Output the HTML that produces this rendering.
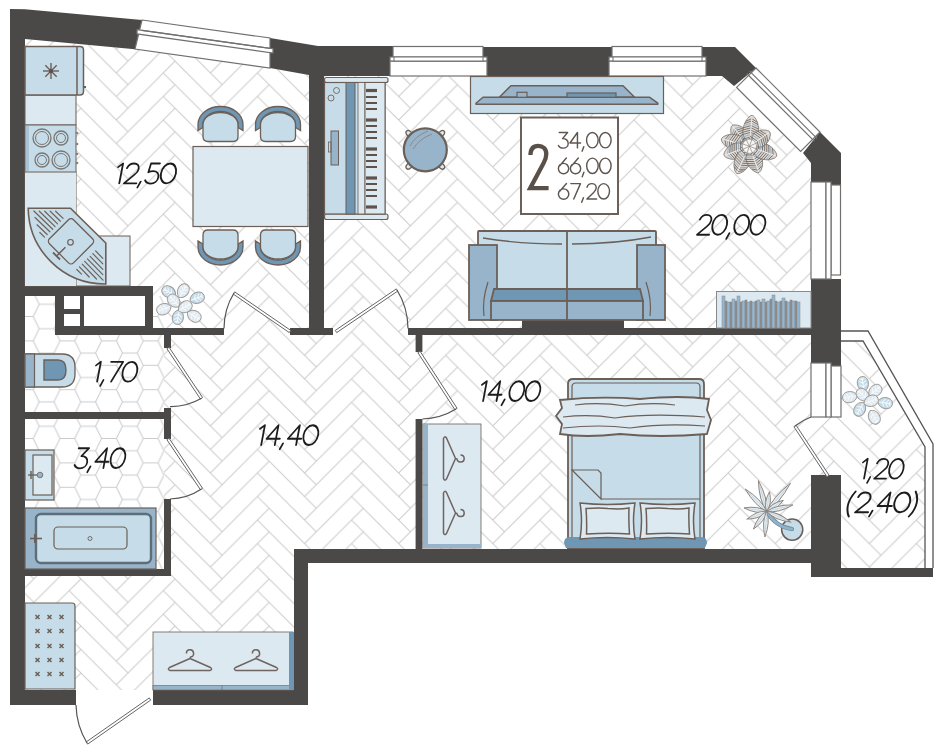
<!DOCTYPE html>
<html><head><meta charset="utf-8"><style>
html,body{margin:0;padding:0;background:#fff;width:951px;height:752px;overflow:hidden}
svg{display:block}
text{font-family:"Liberation Sans",sans-serif}
</style></head><body>
<svg width="951" height="752" viewBox="0 0 951 752">
<defs><pattern id="hb" patternUnits="userSpaceOnUse" x="-13.18" y="-9.45" width="94.130" height="23.533"><path d="M-11.77,-58.83 L0.00,-47.07 L-47.07,0.00 L-58.83,-11.77Z M82.36,-58.83 L94.13,-47.07 L47.07,0.00 L35.30,-11.77Z M-11.77,-35.30 L0.00,-23.53 L-47.07,23.53 L-58.83,11.77Z M0.00,-47.07 L47.07,0.00 L35.30,11.77 L-11.77,-35.30Z M82.36,-35.30 L94.13,-23.53 L47.07,23.53 L35.30,11.77Z M94.13,-47.07 L141.20,0.00 L129.43,11.77 L82.36,-35.30Z M-11.77,-11.77 L0.00,0.00 L-47.07,47.07 L-58.83,35.30Z M0.00,-23.53 L47.07,23.53 L35.30,35.30 L-11.77,-11.77Z M82.36,-11.77 L94.13,0.00 L47.07,47.07 L35.30,35.30Z M94.13,-23.53 L141.20,23.53 L129.43,35.30 L82.36,-11.77Z M-11.77,11.77 L0.00,23.53 L-47.07,70.60 L-58.83,58.83Z M0.00,0.00 L47.07,47.07 L35.30,58.83 L-11.77,11.77Z M82.36,11.77 L94.13,23.53 L47.07,70.60 L35.30,58.83Z M94.13,0.00 L141.20,47.07 L129.43,58.83 L82.36,11.77Z M0.00,23.53 L47.07,70.60 L35.30,82.36 L-11.77,35.30Z M94.13,23.53 L141.20,70.60 L129.43,82.36 L82.36,35.30Z" fill="none" stroke="#cbcbcb" stroke-width="1"/></pattern><pattern id="hx" patternUnits="userSpaceOnUse" x="25.80" y="11.50" width="41.600" height="24.400"><path d="M-55.00,-24.40 L-49.00,-36.60 L-34.20,-36.60 L-28.20,-24.40 L-34.20,-12.20 L-49.00,-12.20Z M-34.20,-12.20 L-28.20,-24.40 L-13.40,-24.40 L-7.40,-12.20 L-13.40,0.00 L-28.20,0.00Z M-55.00,0.00 L-49.00,-12.20 L-34.20,-12.20 L-28.20,0.00 L-34.20,12.20 L-49.00,12.20Z M-34.20,12.20 L-28.20,0.00 L-13.40,0.00 L-7.40,12.20 L-13.40,24.40 L-28.20,24.40Z M-55.00,24.40 L-49.00,12.20 L-34.20,12.20 L-28.20,24.40 L-34.20,36.60 L-49.00,36.60Z M-34.20,36.60 L-28.20,24.40 L-13.40,24.40 L-7.40,36.60 L-13.40,48.80 L-28.20,48.80Z M-55.00,48.80 L-49.00,36.60 L-34.20,36.60 L-28.20,48.80 L-34.20,61.00 L-49.00,61.00Z M-34.20,61.00 L-28.20,48.80 L-13.40,48.80 L-7.40,61.00 L-13.40,73.20 L-28.20,73.20Z M-13.40,-24.40 L-7.40,-36.60 L7.40,-36.60 L13.40,-24.40 L7.40,-12.20 L-7.40,-12.20Z M7.40,-12.20 L13.40,-24.40 L28.20,-24.40 L34.20,-12.20 L28.20,0.00 L13.40,0.00Z M-13.40,0.00 L-7.40,-12.20 L7.40,-12.20 L13.40,0.00 L7.40,12.20 L-7.40,12.20Z M7.40,12.20 L13.40,0.00 L28.20,0.00 L34.20,12.20 L28.20,24.40 L13.40,24.40Z M-13.40,24.40 L-7.40,12.20 L7.40,12.20 L13.40,24.40 L7.40,36.60 L-7.40,36.60Z M7.40,36.60 L13.40,24.40 L28.20,24.40 L34.20,36.60 L28.20,48.80 L13.40,48.80Z M-13.40,48.80 L-7.40,36.60 L7.40,36.60 L13.40,48.80 L7.40,61.00 L-7.40,61.00Z M7.40,61.00 L13.40,48.80 L28.20,48.80 L34.20,61.00 L28.20,73.20 L13.40,73.20Z M28.20,-24.40 L34.20,-36.60 L49.00,-36.60 L55.00,-24.40 L49.00,-12.20 L34.20,-12.20Z M49.00,-12.20 L55.00,-24.40 L69.80,-24.40 L75.80,-12.20 L69.80,0.00 L55.00,0.00Z M28.20,0.00 L34.20,-12.20 L49.00,-12.20 L55.00,0.00 L49.00,12.20 L34.20,12.20Z M49.00,12.20 L55.00,0.00 L69.80,0.00 L75.80,12.20 L69.80,24.40 L55.00,24.40Z M28.20,24.40 L34.20,12.20 L49.00,12.20 L55.00,24.40 L49.00,36.60 L34.20,36.60Z M49.00,36.60 L55.00,24.40 L69.80,24.40 L75.80,36.60 L69.80,48.80 L55.00,48.80Z M28.20,48.80 L34.20,36.60 L49.00,36.60 L55.00,48.80 L49.00,61.00 L34.20,61.00Z M49.00,61.00 L55.00,48.80 L69.80,48.80 L75.80,61.00 L69.80,73.20 L55.00,73.20Z M69.80,-24.40 L75.80,-36.60 L90.60,-36.60 L96.60,-24.40 L90.60,-12.20 L75.80,-12.20Z M90.60,-12.20 L96.60,-24.40 L111.40,-24.40 L117.40,-12.20 L111.40,0.00 L96.60,0.00Z M69.80,0.00 L75.80,-12.20 L90.60,-12.20 L96.60,0.00 L90.60,12.20 L75.80,12.20Z M90.60,12.20 L96.60,0.00 L111.40,0.00 L117.40,12.20 L111.40,24.40 L96.60,24.40Z M69.80,24.40 L75.80,12.20 L90.60,12.20 L96.60,24.40 L90.60,36.60 L75.80,36.60Z M90.60,36.60 L96.60,24.40 L111.40,24.40 L117.40,36.60 L111.40,48.80 L96.60,48.80Z M69.80,48.80 L75.80,36.60 L90.60,36.60 L96.60,48.80 L90.60,61.00 L75.80,61.00Z M90.60,61.00 L96.60,48.80 L111.40,48.80 L117.40,61.00 L111.40,73.20 L96.60,73.20Z" fill="none" stroke="#cbcbcb" stroke-width="1"/></pattern></defs>
<rect width="951" height="752" fill="#fff"/>
<polygon points="25.0,39.0 135.0,48.0 270.0,67.0 309.0,75.0 324.0,76.0 722.0,76.0 803.0,153.0 811.0,163.0 811.0,549.0 308.0,563.0 308.0,690.0 25.0,690.0" fill="url(#hb)" stroke="none" stroke-width="0" />
<polygon points="841.0,341.0 863.0,341.0 925.0,446.0 925.0,568.0 841.0,568.0" fill="url(#hb)" stroke="none" stroke-width="0" />
<rect x="811" y="417" width="30" height="58" rx="0" fill="url(#hb)" stroke="none" stroke-width="0" />
<rect x="25" y="296" width="139" height="116" rx="0" fill="#fff" stroke="none" stroke-width="0" />
<rect x="25" y="296" width="139" height="116" rx="0" fill="url(#hx)" stroke="none" stroke-width="0" />
<rect x="25" y="419" width="139" height="150" rx="0" fill="#fff" stroke="none" stroke-width="0" />
<rect x="25" y="419" width="139" height="150" rx="0" fill="url(#hx)" stroke="none" stroke-width="0" />
<polygon points="10.0,9.0 25.0,9.3 142.0,20.0 135.0,49.2 25.0,39.0 25.0,690.0 76.0,690.0 76.0,705.0 10.0,705.0" fill="#4b4947" stroke="none" stroke-width="0" />
<polygon points="270.0,38.0 318.0,46.0 393.0,46.0 393.0,57.0 390.0,57.0 390.0,76.0 324.0,76.0 324.0,335.0 309.0,335.0 309.0,75.0 270.0,68.0" fill="#4b4947" stroke="none" stroke-width="0" />
<polygon points="290.0,328.0 333.0,328.0 333.0,335.0 290.0,335.0" fill="#4b4947" stroke="none" stroke-width="0" />
<polygon points="483.0,47.0 613.0,47.0 613.0,57.0 609.0,57.0 609.0,76.0 487.0,76.0 487.0,57.0 483.0,57.0" fill="#4b4947" stroke="none" stroke-width="0" />
<polygon points="702.0,47.0 735.0,47.0 756.0,68.0 734.0,86.0 722.0,76.0 706.0,76.0 706.0,57.0 702.0,57.0" fill="#4b4947" stroke="none" stroke-width="0" />
<polygon points="820.0,132.0 841.0,153.0 841.0,185.0 811.0,185.0 811.0,163.0 803.0,153.0" fill="#4b4947" stroke="none" stroke-width="0" />
<polygon points="811.0,279.0 841.0,279.0 841.0,366.0 826.0,366.0 826.0,363.0 811.0,363.0" fill="#4b4947" stroke="none" stroke-width="0" />
<polygon points="408.0,328.0 811.0,328.0 811.0,335.0 408.0,335.0" fill="#4b4947" stroke="none" stroke-width="0" />
<polygon points="522.0,320.0 624.0,320.0 624.0,334.0 522.0,334.0" fill="#4b4947" stroke="none" stroke-width="0" />
<polygon points="811.0,475.0 841.0,475.0 841.0,568.0 933.0,568.0 933.0,577.0 811.0,577.0 811.0,563.0 308.0,563.0 308.0,705.0 153.0,705.0 153.0,690.0 294.0,690.0 294.0,549.0 811.0,549.0" fill="#4b4947" stroke="none" stroke-width="0" />
<polygon points="25.0,286.0 153.0,286.0 153.0,328.0 224.0,328.0 224.0,335.0 55.0,335.0 55.0,296.0 25.0,296.0" fill="#4b4947" stroke="none" stroke-width="0" />
<polygon points="164.0,335.0 171.0,335.0 171.0,348.0 164.0,348.0" fill="#4b4947" stroke="none" stroke-width="0" />
<polygon points="25.0,412.0 164.0,412.0 164.0,408.0 171.0,408.0 171.0,439.0 164.0,439.0 164.0,419.0 25.0,419.0" fill="#4b4947" stroke="none" stroke-width="0" />
<polygon points="164.0,499.0 171.0,499.0 171.0,576.0 25.0,576.0 25.0,569.0 164.0,569.0" fill="#4b4947" stroke="none" stroke-width="0" />
<polygon points="415.6,334.0 422.4,334.0 422.4,352.0 415.6,352.0" fill="#4b4947" stroke="none" stroke-width="0" />
<polygon points="415.6,419.0 422.4,419.0 422.4,549.0 415.6,549.0" fill="#4b4947" stroke="none" stroke-width="0" />
<rect x="64" y="296" width="16" height="13" rx="0" fill="#fff" stroke="none" stroke-width="0" />
<rect x="64" y="314" width="16" height="12" rx="0" fill="#fff" stroke="none" stroke-width="0" />
<rect x="84" y="296" width="61" height="30" rx="0" fill="#fff" stroke="none" stroke-width="0" />
<polygon points="142.0,20.0 270.0,38.0 270.0,68.1 135.0,49.1" fill="#fff" stroke="#707070" stroke-width="1.2" />
<polygon points="137.0,29.6 273.0,48.7 273.0,53.0 137.0,33.9" fill="#fff" stroke="#707070" stroke-width="1.2" />
<line x1="142" y1="30.3" x2="270" y2="48.296800000000005" stroke="#707070" stroke-width="1.2" />
<rect x="393" y="46.5" width="90" height="11" rx="0" fill="#fff" stroke="#707070" stroke-width="1.2" />
<rect x="390" y="61" width="97" height="15" rx="0" fill="#fff" stroke="#707070" stroke-width="1.2" />
<rect x="390" y="57" width="97" height="4" rx="0" fill="#fff" stroke="#707070" stroke-width="1.2" />
<rect x="394" y="57" width="89" height="4" rx="0" fill="#fff" stroke="#707070" stroke-width="1.0" />
<rect x="612" y="46.5" width="90" height="11" rx="0" fill="#fff" stroke="#707070" stroke-width="1.2" />
<rect x="609" y="61" width="97" height="15" rx="0" fill="#fff" stroke="#707070" stroke-width="1.2" />
<rect x="609" y="57" width="97" height="4" rx="0" fill="#fff" stroke="#707070" stroke-width="1.2" />
<rect x="613" y="57" width="89" height="4" rx="0" fill="#fff" stroke="#707070" stroke-width="1.0" />
<polygon points="756.0,68.0 820.0,132.0 800.6,151.4 736.6,87.4" fill="#fff" stroke="#707070" stroke-width="1.2" />
<polygon points="755.5,68.5" fill="#fff" stroke="none" stroke-width="0" />
<line x1="746.6553787975413" y1="73.50462120245875" x2="814.4953787975412" y2="141.34462120245877" stroke="#707070" stroke-width="1.2" />
<line x1="749.3423845660502" y1="70.81761543394987" x2="817.1823845660501" y2="138.65761543394987" stroke="#707070" stroke-width="1.2" />
<rect x="811" y="182" width="15" height="97" rx="0" fill="#fff" stroke="#707070" stroke-width="1.2" />
<rect x="831" y="185" width="9.5" height="90" rx="0" fill="#fff" stroke="#707070" stroke-width="1.2" />
<rect x="826" y="182" width="5" height="97" rx="0" fill="#fff" stroke="#707070" stroke-width="1.2" />
<rect x="811" y="363" width="15" height="54" rx="0" fill="#fff" stroke="#707070" stroke-width="1.2" />
<rect x="831" y="366" width="10" height="51" rx="0" fill="#fff" stroke="#707070" stroke-width="1.2" />
<rect x="826" y="363" width="5" height="54" rx="0" fill="#fff" stroke="#707070" stroke-width="1.2" />
<path d="M841,331 L868,331 L933,444 L933,568" fill="none" stroke="#555" stroke-width="1.3" />
<path d="M841,341 L863,341 L925,447 L925,568" fill="none" stroke="#555" stroke-width="1.3" />
<polygon points="166.9,348.7 200.4,399.0 202.6,397.6 169.1,347.3" fill="#fff" stroke="#666" stroke-width="1" />
<path d="M201.5,398.3 A60.4,60.4 0 0,1 170,406.6" fill="none" stroke="#555" stroke-width="1.2" />
<polygon points="166.9,439.7 200.4,489.7 202.6,488.3 169.1,438.3" fill="#fff" stroke="#666" stroke-width="1" />
<path d="M201.5,489 A60.2,60.2 0 0,1 170,499" fill="none" stroke="#555" stroke-width="1.2" />
<polygon points="290.7,330.4 234.7,291.9 233.3,294.1 289.3,332.6" fill="#fff" stroke="#666" stroke-width="1" />
<path d="M234,293 A68.0,68.0 0 0,0 224,328.5" fill="none" stroke="#555" stroke-width="1.2" />
<polygon points="336.7,332.6 397.7,291.1 396.3,288.9 335.3,330.4" fill="#fff" stroke="#666" stroke-width="1" />
<path d="M397,290 A73.8,73.8 0 0,1 408,328.5" fill="none" stroke="#555" stroke-width="1.2" />
<polygon points="417.9,352.7 454.9,409.7 457.1,408.3 420.1,351.3" fill="#fff" stroke="#666" stroke-width="1" />
<path d="M456,409 A68.0,68.0 0 0,1 422.4,419" fill="none" stroke="#555" stroke-width="1.2" />
<polygon points="829.1,475.3 796.1,425.3 793.9,426.7 826.9,476.7" fill="#fff" stroke="#666" stroke-width="1" />
<path d="M795,426 A59.9,59.9 0 0,1 811,417" fill="none" stroke="#555" stroke-width="1.2" />
<polygon points="149.3,697.9 86.3,741.9 87.7,744.1 150.7,700.1" fill="#fff" stroke="#666" stroke-width="1" />
<path d="M87,743 A76.8,76.8 0 0,1 76,705" fill="none" stroke="#555" stroke-width="1.2" />
<rect x="25" y="95" width="51" height="30" rx="0" fill="#dce9f1" stroke="#6b5f58" stroke-width="1" />
<rect x="25" y="172" width="51" height="114" rx="0" fill="#dce9f1" stroke="#6b5f58" stroke-width="1" />
<rect x="76" y="236" width="54" height="50" rx="0" fill="#dce9f1" stroke="#6b5f58" stroke-width="1" />
<rect x="25" y="172" width="51" height="114" rx="0" fill="#dce9f1" stroke="none" stroke-width="0" />
<path d="M25,46.5 L80,46.5 Q83.5,46.5 83.5,50 L83.5,91.5 Q83.5,95 80,95 L25,95 Z" fill="#c6dde9" stroke="#6b5f58" stroke-width="1.5" />
<line x1="77" y1="46.5" x2="77" y2="95" stroke="#6b5f58" stroke-width="1.5" />
<rect x="83.5" y="86" width="2.5" height="2" rx="0" fill="#6b5f58" stroke="none" stroke-width="0" />
<line x1="43.0" y1="71.0" x2="59.0" y2="71.0" stroke="#6b5f58" stroke-width="1.4" />
<line x1="45.3" y1="65.3" x2="56.7" y2="76.7" stroke="#6b5f58" stroke-width="1.4" />
<line x1="51.0" y1="63.0" x2="51.0" y2="79.0" stroke="#6b5f58" stroke-width="1.4" />
<line x1="56.7" y1="65.3" x2="45.3" y2="76.7" stroke="#6b5f58" stroke-width="1.4" />
<circle cx="51" cy="71" r="2" fill="#5a4f49"/>
<rect x="25" y="125" width="51" height="47" rx="0" fill="#c6dde9" stroke="#6b5f58" stroke-width="1" />
<rect x="26" y="126" width="3" height="45" rx="0" fill="#a9c3d5" stroke="none" stroke-width="0" />
<circle cx="42" cy="138" r="9" fill="none" stroke="#7a7572" stroke-width="1.3"/>
<circle cx="42" cy="138" r="6.5" fill="none" stroke="#7a7572" stroke-width="1"/>
<circle cx="61" cy="138" r="7" fill="none" stroke="#7a7572" stroke-width="1.3"/>
<circle cx="61" cy="138" r="4.5" fill="none" stroke="#7a7572" stroke-width="1"/>
<circle cx="42" cy="160" r="7" fill="none" stroke="#7a7572" stroke-width="1.3"/>
<circle cx="42" cy="160" r="4.5" fill="none" stroke="#7a7572" stroke-width="1"/>
<circle cx="61" cy="160" r="9" fill="none" stroke="#7a7572" stroke-width="1.3"/>
<circle cx="61" cy="160" r="6.5" fill="none" stroke="#7a7572" stroke-width="1"/>
<circle cx="77" cy="133" r="1.3" fill="#8a7f78"/>
<circle cx="77" cy="144" r="1.3" fill="#8a7f78"/>
<circle cx="77" cy="154" r="1.3" fill="#8a7f78"/>
<circle cx="77" cy="163" r="1.3" fill="#8a7f78"/>
<path d="M28.2,208.2 L70.5,208.2 L105.8,243 L105.8,284 A77,77 0 0,1 28.2,208.2 Z" fill="#c6dde9" stroke="#6b5f58" stroke-width="1.6" />
<rect x="-17" y="-17" width="34" height="34" rx="3.5" transform="translate(71,241.3) rotate(45)" fill="#c6dde9" stroke="#6b5f58" stroke-width="1.3"/>
<circle cx="70.5" cy="242.3" r="2.8" fill="none" stroke="#6b5f58" stroke-width="1.2"/>
<line x1="65.4" y1="247.3" x2="56.6" y2="256" stroke="#6b5f58" stroke-width="1.5" />
<line x1="53" y1="252.5" x2="60" y2="259.5" stroke="#6b5f58" stroke-width="1.8" />
<line x1="33.9" y1="211.0" x2="52.7" y2="229.3" stroke="#6e625b" stroke-width="1.2" stroke-linecap="round"/>
<line x1="103.0" y1="280.1" x2="84.7" y2="261.3" stroke="#6e625b" stroke-width="1.2" stroke-linecap="round"/>
<line x1="39.3" y1="211.2" x2="55.1" y2="226.6" stroke="#6e625b" stroke-width="1.2" stroke-linecap="round"/>
<line x1="102.8" y1="274.7" x2="87.4" y2="258.9" stroke="#6e625b" stroke-width="1.2" stroke-linecap="round"/>
<line x1="44.7" y1="211.2" x2="57.6" y2="223.9" stroke="#6e625b" stroke-width="1.2" stroke-linecap="round"/>
<line x1="102.8" y1="269.3" x2="90.1" y2="256.4" stroke="#6e625b" stroke-width="1.2" stroke-linecap="round"/>
<line x1="50.2" y1="211.2" x2="60.4" y2="221.2" stroke="#6e625b" stroke-width="1.2" stroke-linecap="round"/>
<line x1="102.8" y1="263.8" x2="92.8" y2="253.6" stroke="#6e625b" stroke-width="1.2" stroke-linecap="round"/>
<line x1="55.6" y1="211.2" x2="63.1" y2="218.4" stroke="#6e625b" stroke-width="1.2" stroke-linecap="round"/>
<line x1="102.8" y1="258.4" x2="95.6" y2="250.9" stroke="#6e625b" stroke-width="1.2" stroke-linecap="round"/>
<line x1="35.0" y1="217.5" x2="49.9" y2="231.8" stroke="#6e625b" stroke-width="1.2" stroke-linecap="round"/>
<line x1="96.5" y1="279.0" x2="82.2" y2="264.1" stroke="#6e625b" stroke-width="1.2" stroke-linecap="round"/>
<line x1="37.0" y1="224.8" x2="47.2" y2="234.5" stroke="#6e625b" stroke-width="1.2" stroke-linecap="round"/>
<line x1="89.2" y1="277.0" x2="79.5" y2="266.8" stroke="#6e625b" stroke-width="1.2" stroke-linecap="round"/>
<line x1="39.8" y1="232.5" x2="44.5" y2="237.2" stroke="#6e625b" stroke-width="1.2" stroke-linecap="round"/>
<line x1="81.5" y1="274.2" x2="76.8" y2="269.5" stroke="#6e625b" stroke-width="1.2" stroke-linecap="round"/>
<rect x="193" y="146.5" width="115" height="80" rx="0" fill="#dce9f1" stroke="#6b5f58" stroke-width="1.2" />
<path d="M198,130.5 L198,124.5 A22.5,18 0 0,1 243,124.5 L243,130.5 L238,127.5 L238,124.5 A17.5,13 0 0,0 203,124.5 L203,127.5 Z" fill="#6f96b2" stroke="#6b5f58" stroke-width="1.3" />
<path d="M203,124.5 A17.5,12 0 0,1 238,124.5 L238,136.5 Q238,141.5 233,141.5 L208,141.5 Q203,141.5 203,136.5 Z" fill="#c6dde9" stroke="#6b5f58" stroke-width="1.3" />
<path d="M255.5,130.5 L255.5,124.5 A22.5,18 0 0,1 300.5,124.5 L300.5,130.5 L295.5,127.5 L295.5,124.5 A17.5,13 0 0,0 260.5,124.5 L260.5,127.5 Z" fill="#6f96b2" stroke="#6b5f58" stroke-width="1.3" />
<path d="M260.5,124.5 A17.5,12 0 0,1 295.5,124.5 L295.5,136.5 Q295.5,141.5 290.5,141.5 L265.5,141.5 Q260.5,141.5 260.5,136.5 Z" fill="#c6dde9" stroke="#6b5f58" stroke-width="1.3" />
<path d="M198,241 L198,247 A22.5,18 0 0,0 243,247 L243,241 L238,244 L238,247 A17.5,13 0 0,1 203,247 L203,244 Z" fill="#6f96b2" stroke="#6b5f58" stroke-width="1.3" />
<path d="M203,247 A17.5,12 0 0,0 238,247 L238,235 Q238,230 233,230 L208,230 Q203,230 203,235 Z" fill="#c6dde9" stroke="#6b5f58" stroke-width="1.3" />
<path d="M255.5,241 L255.5,247 A22.5,18 0 0,0 300.5,247 L300.5,241 L295.5,244 L295.5,247 A17.5,13 0 0,1 260.5,247 L260.5,244 Z" fill="#6f96b2" stroke="#6b5f58" stroke-width="1.3" />
<path d="M260.5,247 A17.5,12 0 0,0 295.5,247 L295.5,235 Q295.5,230 290.5,230 L265.5,230 Q260.5,230 260.5,235 Z" fill="#c6dde9" stroke="#6b5f58" stroke-width="1.3" />
<rect x="324.5" y="77.5" width="63.5" height="5" rx="2" fill="#dce9f1" stroke="#6b5f58" stroke-width="1.2" />
<rect x="324.5" y="214" width="63.5" height="5.5" rx="2" fill="#dce9f1" stroke="#6b5f58" stroke-width="1.2" />
<rect x="324.5" y="82.5" width="60.5" height="131.5" rx="0" fill="#c6dde9" stroke="#6b5f58" stroke-width="1.2" />
<rect x="346" y="82.5" width="9" height="131.5" rx="0" fill="#6f96b2" stroke="#6b5f58" stroke-width="1" />
<rect x="358" y="82.5" width="7" height="131.5" rx="0" fill="#dce9f1" stroke="#6b5f58" stroke-width="0.8" />
<rect x="365" y="82.5" width="20" height="131.5" rx="0" fill="#dce9f1" stroke="#6b5f58" stroke-width="1" />
<circle cx="336.5" cy="90.5" r="3" fill="none" stroke="#7a6f68" stroke-width="1"/>
<circle cx="331" cy="98" r="3" fill="none" stroke="#7a6f68" stroke-width="1"/>
<rect x="331" y="131" width="7.5" height="34" rx="0" fill="#97b4ca" stroke="#6b5f58" stroke-width="1" />
<rect x="328.5" y="142" width="2.5" height="10" rx="0" fill="none" stroke="#6b5f58" stroke-width="0.8" />
<rect x="366" y="88.9" width="11" height="3.2" rx="0" fill="#5e524b" stroke="none" stroke-width="0" />
<rect x="366" y="96" width="11" height="2" rx="0" fill="#5e524b" stroke="none" stroke-width="0" />
<rect x="366" y="102" width="11" height="2" rx="0" fill="#5e524b" stroke="none" stroke-width="0" />
<rect x="366" y="108" width="11" height="2" rx="0" fill="#5e524b" stroke="none" stroke-width="0" />
<rect x="366" y="118.4" width="11" height="3.2" rx="0" fill="#5e524b" stroke="none" stroke-width="0" />
<rect x="366" y="125" width="11" height="2" rx="0" fill="#5e524b" stroke="none" stroke-width="0" />
<rect x="366" y="131" width="11" height="2" rx="0" fill="#5e524b" stroke="none" stroke-width="0" />
<rect x="366" y="137" width="11" height="2" rx="0" fill="#5e524b" stroke="none" stroke-width="0" />
<rect x="366" y="147.4" width="11" height="3.2" rx="0" fill="#5e524b" stroke="none" stroke-width="0" />
<rect x="366" y="154" width="11" height="2" rx="0" fill="#5e524b" stroke="none" stroke-width="0" />
<rect x="366" y="160" width="11" height="2" rx="0" fill="#5e524b" stroke="none" stroke-width="0" />
<rect x="366" y="166" width="11" height="2" rx="0" fill="#5e524b" stroke="none" stroke-width="0" />
<rect x="366" y="176.4" width="11" height="3.2" rx="0" fill="#5e524b" stroke="none" stroke-width="0" />
<rect x="366" y="183" width="11" height="2" rx="0" fill="#5e524b" stroke="none" stroke-width="0" />
<rect x="366" y="189" width="11" height="2" rx="0" fill="#5e524b" stroke="none" stroke-width="0" />
<rect x="366" y="195" width="11" height="2" rx="0" fill="#5e524b" stroke="none" stroke-width="0" />
<rect x="366" y="205.4" width="11" height="3.2" rx="0" fill="#5e524b" stroke="none" stroke-width="0" />
<ellipse cx="441.2" cy="165.7" rx="4" ry="2.5" transform="rotate(45 441.2 165.7)" fill="#dce9f1" stroke="#6b5f58" stroke-width="1.3"/>
<ellipse cx="409.4" cy="165.7" rx="4" ry="2.5" transform="rotate(135 409.4 165.7)" fill="#dce9f1" stroke="#6b5f58" stroke-width="1.3"/>
<ellipse cx="409.4" cy="133.9" rx="4" ry="2.5" transform="rotate(225 409.4 133.9)" fill="#dce9f1" stroke="#6b5f58" stroke-width="1.3"/>
<ellipse cx="441.2" cy="133.9" rx="4" ry="2.5" transform="rotate(315 441.2 133.9)" fill="#dce9f1" stroke="#6b5f58" stroke-width="1.3"/>
<circle cx="425.3" cy="149.8" r="21.5" fill="#97b4ca" stroke="#6b5f58" stroke-width="2.2"/>
<path d="M410,146 Q415,136 428,131" fill="none" stroke="#8a7f78" stroke-width="0.8" />
<path d="M413,149 Q419,139 432,134" fill="none" stroke="#8a7f78" stroke-width="0.8" />
<rect x="470.5" y="76.5" width="193" height="37" rx="0" fill="#c6dde9" stroke="#6b5f58" stroke-width="1.2" />
<polygon points="499.3,97.3 510.9,85.7 623.0,85.7 634.6,97.3" fill="#97b4ca" stroke="#6b5f58" stroke-width="1.5" stroke-linejoin="round"/>
<polygon points="476.0,103.2 483.0,97.3 649.7,97.3 657.8,103.2 657.8,104.2 476.0,104.2" fill="#97b4ca" stroke="#6b5f58" stroke-width="1.5" stroke-linejoin="round"/>
<rect x="517" y="92.3" width="10" height="5" rx="0" fill="#97b4ca" stroke="#6b5f58" stroke-width="1.2" />
<rect x="567" y="93" width="49" height="4.3" rx="0" fill="#6f96b2" stroke="#6b5f58" stroke-width="1.2" />
<rect x="521" y="117.5" width="97" height="96.5" rx="0" fill="#fff" stroke="#6b605a" stroke-width="2" />
<path d="M530.4,155 C530.6,148.6 533.8,145.8 538.2,145.8 C543,145.8 546.3,149 546.3,154 C546.3,157.5 545.3,160 543.5,163.2 L530.2,188.15 L548.6,188.15" fill="none" stroke="#5a504a" stroke-width="4.3" stroke-linejoin="miter"/>
<rect x="478" y="231" width="178" height="60" rx="1" fill="#c6dde9" stroke="#6b5f58" stroke-width="1.8" />
<line x1="567" y1="231" x2="567" y2="320" stroke="#6b5f58" stroke-width="1.8" />
<path d="M483,238 Q520,244 562,244" fill="none" stroke="#6b5f58" stroke-width="1.3" />
<path d="M572,244 Q615,244 651,237" fill="none" stroke="#6b5f58" stroke-width="1.3" />
<rect x="469" y="245" width="28" height="75" rx="0" fill="#97b4ca" stroke="#6b5f58" stroke-width="1.8" />
<rect x="637" y="245" width="28" height="75" rx="0" fill="#97b4ca" stroke="#6b5f58" stroke-width="1.8" />
<polygon points="494.0,289.0 640.0,289.0 643.0,301.0 491.0,301.0" fill="#6f96b2" stroke="#6b5f58" stroke-width="1.8" />
<rect x="491" y="301" width="152" height="19" rx="0" fill="#97b4ca" stroke="#6b5f58" stroke-width="1.8" />
<line x1="567" y1="289" x2="567" y2="320" stroke="#6b5f58" stroke-width="1.8" />
<path d="M488,282 Q482,300 484,316" fill="none" stroke="#6b5f58" stroke-width="1.2" />
<path d="M646,282 Q652,300 650,316" fill="none" stroke="#6b5f58" stroke-width="1.2" />
<rect x="716.5" y="291.5" width="94.5" height="36.5" rx="0" fill="#dce9f1" stroke="#8a8a8a" stroke-width="1" />
<rect x="722" y="296" width="3" height="32" fill="#93b7d2" stroke="#8a8a8a" stroke-width="0.5"/>
<rect x="725" y="301" width="2" height="27" fill="#8c8c8c" stroke="#8a8a8a" stroke-width="0.5"/>
<rect x="727" y="302" width="3" height="26" fill="#93b7d2" stroke="#8a8a8a" stroke-width="0.5"/>
<rect x="730" y="302" width="2" height="26" fill="#8c8c8c" stroke="#8a8a8a" stroke-width="0.5"/>
<rect x="732" y="299" width="3" height="29" fill="#93b7d2" stroke="#8a8a8a" stroke-width="0.5"/>
<rect x="735" y="301" width="2" height="27" fill="#8c8c8c" stroke="#8a8a8a" stroke-width="0.5"/>
<rect x="737" y="296" width="3" height="32" fill="#93b7d2" stroke="#8a8a8a" stroke-width="0.5"/>
<rect x="740" y="302" width="2" height="26" fill="#8c8c8c" stroke="#8a8a8a" stroke-width="0.5"/>
<rect x="742" y="301" width="3" height="27" fill="#93b7d2" stroke="#8a8a8a" stroke-width="0.5"/>
<rect x="745" y="300" width="2" height="28" fill="#8c8c8c" stroke="#8a8a8a" stroke-width="0.5"/>
<rect x="747" y="302" width="3" height="26" fill="#93b7d2" stroke="#8a8a8a" stroke-width="0.5"/>
<rect x="750" y="301" width="2" height="27" fill="#8c8c8c" stroke="#8a8a8a" stroke-width="0.5"/>
<rect x="752" y="302" width="3" height="26" fill="#93b7d2" stroke="#8a8a8a" stroke-width="0.5"/>
<rect x="755" y="301" width="2" height="27" fill="#8c8c8c" stroke="#8a8a8a" stroke-width="0.5"/>
<rect x="757" y="300" width="3" height="28" fill="#93b7d2" stroke="#8a8a8a" stroke-width="0.5"/>
<rect x="760" y="302" width="2" height="26" fill="#8c8c8c" stroke="#8a8a8a" stroke-width="0.5"/>
<rect x="762" y="299" width="3" height="29" fill="#93b7d2" stroke="#8a8a8a" stroke-width="0.5"/>
<rect x="765" y="302" width="2" height="26" fill="#8c8c8c" stroke="#8a8a8a" stroke-width="0.5"/>
<rect x="767" y="301" width="3" height="27" fill="#93b7d2" stroke="#8a8a8a" stroke-width="0.5"/>
<rect x="770" y="299" width="2" height="29" fill="#8c8c8c" stroke="#8a8a8a" stroke-width="0.5"/>
<rect x="772" y="295" width="3" height="33" fill="#93b7d2" stroke="#8a8a8a" stroke-width="0.5"/>
<rect x="775" y="301" width="2" height="27" fill="#8c8c8c" stroke="#8a8a8a" stroke-width="0.5"/>
<rect x="777" y="302" width="3" height="26" fill="#93b7d2" stroke="#8a8a8a" stroke-width="0.5"/>
<rect x="780" y="301" width="2" height="27" fill="#8c8c8c" stroke="#8a8a8a" stroke-width="0.5"/>
<rect x="782" y="298" width="3" height="30" fill="#93b7d2" stroke="#8a8a8a" stroke-width="0.5"/>
<rect x="785" y="301" width="2" height="27" fill="#8c8c8c" stroke="#8a8a8a" stroke-width="0.5"/>
<rect x="787" y="302" width="3" height="26" fill="#93b7d2" stroke="#8a8a8a" stroke-width="0.5"/>
<rect x="790" y="300" width="2" height="28" fill="#8c8c8c" stroke="#8a8a8a" stroke-width="0.5"/>
<rect x="792" y="301" width="3" height="27" fill="#93b7d2" stroke="#8a8a8a" stroke-width="0.5"/>
<rect x="795" y="301" width="2" height="27" fill="#8c8c8c" stroke="#8a8a8a" stroke-width="0.5"/>
<rect x="797" y="302" width="3" height="26" fill="#93b7d2" stroke="#8a8a8a" stroke-width="0.5"/>
<g transform="translate(169.0,292.0) rotate(-150) scale(1.0)"><path d="M-7.5,0 Q-5,-6 2,-5.5 Q7.5,-4.5 7.5,0 Q7.5,4.5 2,5.5 Q-5,6 -7.5,0 Z" fill="#c3dbe9" stroke="#9d9893" stroke-width="0.9"/><path d="M-6,0 L6,0 M-3,0 L-0.5,-3.5 M0.5,0 L3,-3.2 M-3,0 L-0.5,3.5 M0.5,0 L3,3.2 M4,0 L5.5,-2 M4,0 L5.5,2" stroke="#f5f9fc" stroke-width="1" fill="none" stroke-linecap="round"/></g>
<g transform="translate(183.0,291.0) rotate(-60) scale(1.0)"><path d="M-7.5,0 Q-5,-6 2,-5.5 Q7.5,-4.5 7.5,0 Q7.5,4.5 2,5.5 Q-5,6 -7.5,0 Z" fill="#dfe9f0" stroke="#9d9893" stroke-width="0.9"/><path d="M-6,0 L6,0 M-3,0 L-0.5,-3.5 M0.5,0 L3,-3.2 M-3,0 L-0.5,3.5 M0.5,0 L3,3.2 M4,0 L5.5,-2 M4,0 L5.5,2" stroke="#f5f9fc" stroke-width="1" fill="none" stroke-linecap="round"/></g>
<g transform="translate(197.0,298.0) rotate(-20) scale(1.0)"><path d="M-7.5,0 Q-5,-6 2,-5.5 Q7.5,-4.5 7.5,0 Q7.5,4.5 2,5.5 Q-5,6 -7.5,0 Z" fill="#c3dbe9" stroke="#9d9893" stroke-width="0.9"/><path d="M-6,0 L6,0 M-3,0 L-0.5,-3.5 M0.5,0 L3,-3.2 M-3,0 L-0.5,3.5 M0.5,0 L3,3.2 M4,0 L5.5,-2 M4,0 L5.5,2" stroke="#f5f9fc" stroke-width="1" fill="none" stroke-linecap="round"/></g>
<g transform="translate(164.0,309.0) rotate(160) scale(1.0)"><path d="M-7.5,0 Q-5,-6 2,-5.5 Q7.5,-4.5 7.5,0 Q7.5,4.5 2,5.5 Q-5,6 -7.5,0 Z" fill="#dfe9f0" stroke="#9d9893" stroke-width="0.9"/><path d="M-6,0 L6,0 M-3,0 L-0.5,-3.5 M0.5,0 L3,-3.2 M-3,0 L-0.5,3.5 M0.5,0 L3,3.2 M4,0 L5.5,-2 M4,0 L5.5,2" stroke="#f5f9fc" stroke-width="1" fill="none" stroke-linecap="round"/></g>
<g transform="translate(178.0,317.0) rotate(100) scale(1.0)"><path d="M-7.5,0 Q-5,-6 2,-5.5 Q7.5,-4.5 7.5,0 Q7.5,4.5 2,5.5 Q-5,6 -7.5,0 Z" fill="#c3dbe9" stroke="#9d9893" stroke-width="0.9"/><path d="M-6,0 L6,0 M-3,0 L-0.5,-3.5 M0.5,0 L3,-3.2 M-3,0 L-0.5,3.5 M0.5,0 L3,3.2 M4,0 L5.5,-2 M4,0 L5.5,2" stroke="#f5f9fc" stroke-width="1" fill="none" stroke-linecap="round"/></g>
<g transform="translate(194.0,316.0) rotate(30) scale(1.0)"><path d="M-7.5,0 Q-5,-6 2,-5.5 Q7.5,-4.5 7.5,0 Q7.5,4.5 2,5.5 Q-5,6 -7.5,0 Z" fill="#dfe9f0" stroke="#9d9893" stroke-width="0.9"/><path d="M-6,0 L6,0 M-3,0 L-0.5,-3.5 M0.5,0 L3,-3.2 M-3,0 L-0.5,3.5 M0.5,0 L3,3.2 M4,0 L5.5,-2 M4,0 L5.5,2" stroke="#f5f9fc" stroke-width="1" fill="none" stroke-linecap="round"/></g>
<g transform="translate(174.0,301.0) rotate(-130) scale(1.0)"><path d="M-7.5,0 Q-5,-6 2,-5.5 Q7.5,-4.5 7.5,0 Q7.5,4.5 2,5.5 Q-5,6 -7.5,0 Z" fill="#dfe9f0" stroke="#9d9893" stroke-width="0.9"/><path d="M-6,0 L6,0 M-3,0 L-0.5,-3.5 M0.5,0 L3,-3.2 M-3,0 L-0.5,3.5 M0.5,0 L3,3.2 M4,0 L5.5,-2 M4,0 L5.5,2" stroke="#f5f9fc" stroke-width="1" fill="none" stroke-linecap="round"/></g>
<g transform="translate(185.0,307.0) rotate(-30) scale(1.0)"><path d="M-7.5,0 Q-5,-6 2,-5.5 Q7.5,-4.5 7.5,0 Q7.5,4.5 2,5.5 Q-5,6 -7.5,0 Z" fill="#dfe9f0" stroke="#9d9893" stroke-width="0.9"/><path d="M-6,0 L6,0 M-3,0 L-0.5,-3.5 M0.5,0 L3,-3.2 M-3,0 L-0.5,3.5 M0.5,0 L3,3.2 M4,0 L5.5,-2 M4,0 L5.5,2" stroke="#f5f9fc" stroke-width="1" fill="none" stroke-linecap="round"/></g>
<g transform="translate(863.0,384.0) rotate(-100) scale(1.0)"><path d="M-7.5,0 Q-5,-6 2,-5.5 Q7.5,-4.5 7.5,0 Q7.5,4.5 2,5.5 Q-5,6 -7.5,0 Z" fill="#c3dbe9" stroke="#9d9893" stroke-width="0.9"/><path d="M-6,0 L6,0 M-3,0 L-0.5,-3.5 M0.5,0 L3,-3.2 M-3,0 L-0.5,3.5 M0.5,0 L3,3.2 M4,0 L5.5,-2 M4,0 L5.5,2" stroke="#f5f9fc" stroke-width="1" fill="none" stroke-linecap="round"/></g>
<g transform="translate(875.0,391.0) rotate(-40) scale(1.0)"><path d="M-7.5,0 Q-5,-6 2,-5.5 Q7.5,-4.5 7.5,0 Q7.5,4.5 2,5.5 Q-5,6 -7.5,0 Z" fill="#dfe9f0" stroke="#9d9893" stroke-width="0.9"/><path d="M-6,0 L6,0 M-3,0 L-0.5,-3.5 M0.5,0 L3,-3.2 M-3,0 L-0.5,3.5 M0.5,0 L3,3.2 M4,0 L5.5,-2 M4,0 L5.5,2" stroke="#f5f9fc" stroke-width="1" fill="none" stroke-linecap="round"/></g>
<g transform="translate(850.0,397.0) rotate(170) scale(1.0)"><path d="M-7.5,0 Q-5,-6 2,-5.5 Q7.5,-4.5 7.5,0 Q7.5,4.5 2,5.5 Q-5,6 -7.5,0 Z" fill="#dfe9f0" stroke="#9d9893" stroke-width="0.9"/><path d="M-6,0 L6,0 M-3,0 L-0.5,-3.5 M0.5,0 L3,-3.2 M-3,0 L-0.5,3.5 M0.5,0 L3,3.2 M4,0 L5.5,-2 M4,0 L5.5,2" stroke="#f5f9fc" stroke-width="1" fill="none" stroke-linecap="round"/></g>
<g transform="translate(885.0,403.0) rotate(10) scale(1.0)"><path d="M-7.5,0 Q-5,-6 2,-5.5 Q7.5,-4.5 7.5,0 Q7.5,4.5 2,5.5 Q-5,6 -7.5,0 Z" fill="#c3dbe9" stroke="#9d9893" stroke-width="0.9"/><path d="M-6,0 L6,0 M-3,0 L-0.5,-3.5 M0.5,0 L3,-3.2 M-3,0 L-0.5,3.5 M0.5,0 L3,3.2 M4,0 L5.5,-2 M4,0 L5.5,2" stroke="#f5f9fc" stroke-width="1" fill="none" stroke-linecap="round"/></g>
<g transform="translate(860.0,409.0) rotate(120) scale(1.0)"><path d="M-7.5,0 Q-5,-6 2,-5.5 Q7.5,-4.5 7.5,0 Q7.5,4.5 2,5.5 Q-5,6 -7.5,0 Z" fill="#c3dbe9" stroke="#9d9893" stroke-width="0.9"/><path d="M-6,0 L6,0 M-3,0 L-0.5,-3.5 M0.5,0 L3,-3.2 M-3,0 L-0.5,3.5 M0.5,0 L3,3.2 M4,0 L5.5,-2 M4,0 L5.5,2" stroke="#f5f9fc" stroke-width="1" fill="none" stroke-linecap="round"/></g>
<g transform="translate(874.0,417.0) rotate(60) scale(1.0)"><path d="M-7.5,0 Q-5,-6 2,-5.5 Q7.5,-4.5 7.5,0 Q7.5,4.5 2,5.5 Q-5,6 -7.5,0 Z" fill="#dfe9f0" stroke="#9d9893" stroke-width="0.9"/><path d="M-6,0 L6,0 M-3,0 L-0.5,-3.5 M0.5,0 L3,-3.2 M-3,0 L-0.5,3.5 M0.5,0 L3,3.2 M4,0 L5.5,-2 M4,0 L5.5,2" stroke="#f5f9fc" stroke-width="1" fill="none" stroke-linecap="round"/></g>
<g transform="translate(863.0,395.0) rotate(-140) scale(1.0)"><path d="M-7.5,0 Q-5,-6 2,-5.5 Q7.5,-4.5 7.5,0 Q7.5,4.5 2,5.5 Q-5,6 -7.5,0 Z" fill="#dfe9f0" stroke="#9d9893" stroke-width="0.9"/><path d="M-6,0 L6,0 M-3,0 L-0.5,-3.5 M0.5,0 L3,-3.2 M-3,0 L-0.5,3.5 M0.5,0 L3,3.2 M4,0 L5.5,-2 M4,0 L5.5,2" stroke="#f5f9fc" stroke-width="1" fill="none" stroke-linecap="round"/></g>
<g transform="translate(871.0,401.0) rotate(-20) scale(1.0)"><path d="M-7.5,0 Q-5,-6 2,-5.5 Q7.5,-4.5 7.5,0 Q7.5,4.5 2,5.5 Q-5,6 -7.5,0 Z" fill="#dfe9f0" stroke="#9d9893" stroke-width="0.9"/><path d="M-6,0 L6,0 M-3,0 L-0.5,-3.5 M0.5,0 L3,-3.2 M-3,0 L-0.5,3.5 M0.5,0 L3,3.2 M4,0 L5.5,-2 M4,0 L5.5,2" stroke="#f5f9fc" stroke-width="1" fill="none" stroke-linecap="round"/></g>
<g transform="translate(749.4,146.3) rotate(-130)"><path d="M5,0 C6,-8.5 13.5,-9.5 21.6,-5.9 Q27,-2.5 27,0 Q27,2.5 21.6,5.9 C13.5,9.5 6,8.5 5,0 Z" fill="#dcd7d2" stroke="#857c76" stroke-width="0.8"/><path d="M7.0,0 L4.0,-7.5 M7.0,0 L4.0,7.5" stroke="#6e655f" stroke-width="0.8" fill="none"/><path d="M9.3,0 L6.3,-8.1 M9.3,0 L6.3,8.1" stroke="#6e655f" stroke-width="0.8" fill="none"/><path d="M11.6,0 L8.6,-8.4 M11.6,0 L8.6,8.4" stroke="#86aac4" stroke-width="0.8" fill="none"/><path d="M13.9,0 L10.9,-8.5 M13.9,0 L10.9,8.5" stroke="#6e655f" stroke-width="0.8" fill="none"/><path d="M16.2,0 L13.2,-8.3 M16.2,0 L13.2,8.3" stroke="#6e655f" stroke-width="0.8" fill="none"/><path d="M18.5,0 L15.5,-7.9 M18.5,0 L15.5,7.9" stroke="#6e655f" stroke-width="0.8" fill="none"/><path d="M20.8,0 L17.8,-7.3 M20.8,0 L17.8,7.3" stroke="#6e655f" stroke-width="0.8" fill="none"/><path d="M23.1,0 L20.1,-6.2 M23.1,0 L20.1,6.2" stroke="#86aac4" stroke-width="0.8" fill="none"/><path d="M5,0 L26,0" stroke="#eeeeee" stroke-width="0.9"/></g>
<g transform="translate(749.4,146.3) rotate(-165)"><path d="M5,0 C6,-8.5 14.5,-9.5 23.2,-5.9 Q29,-2.5 29,0 Q29,2.5 23.2,5.9 C14.5,9.5 6,8.5 5,0 Z" fill="#dcd7d2" stroke="#857c76" stroke-width="0.8"/><path d="M7.0,0 L4.0,-7.4 M7.0,0 L4.0,7.4" stroke="#6e655f" stroke-width="0.8" fill="none"/><path d="M9.3,0 L6.3,-8.0 M9.3,0 L6.3,8.0" stroke="#6e655f" stroke-width="0.8" fill="none"/><path d="M11.6,0 L8.6,-8.3 M11.6,0 L8.6,8.3" stroke="#86aac4" stroke-width="0.8" fill="none"/><path d="M13.9,0 L10.9,-8.5 M13.9,0 L10.9,8.5" stroke="#6e655f" stroke-width="0.8" fill="none"/><path d="M16.2,0 L13.2,-8.4 M16.2,0 L13.2,8.4" stroke="#6e655f" stroke-width="0.8" fill="none"/><path d="M18.5,0 L15.5,-8.2 M18.5,0 L15.5,8.2" stroke="#6e655f" stroke-width="0.8" fill="none"/><path d="M20.8,0 L17.8,-7.7 M20.8,0 L17.8,7.7" stroke="#6e655f" stroke-width="0.8" fill="none"/><path d="M23.1,0 L20.1,-7.0 M23.1,0 L20.1,7.0" stroke="#86aac4" stroke-width="0.8" fill="none"/><path d="M25.4,0 L22.4,-5.9 M25.4,0 L22.4,5.9" stroke="#6e655f" stroke-width="0.8" fill="none"/><path d="M5,0 L28,0" stroke="#eeeeee" stroke-width="0.9"/></g>
<g transform="translate(749.4,146.3) rotate(160)"><path d="M5,0 C6,-8.5 13.5,-9.5 21.6,-5.9 Q27,-2.5 27,0 Q27,2.5 21.6,5.9 C13.5,9.5 6,8.5 5,0 Z" fill="#dcd7d2" stroke="#857c76" stroke-width="0.8"/><path d="M7.0,0 L4.0,-7.5 M7.0,0 L4.0,7.5" stroke="#6e655f" stroke-width="0.8" fill="none"/><path d="M9.3,0 L6.3,-8.1 M9.3,0 L6.3,8.1" stroke="#6e655f" stroke-width="0.8" fill="none"/><path d="M11.6,0 L8.6,-8.4 M11.6,0 L8.6,8.4" stroke="#86aac4" stroke-width="0.8" fill="none"/><path d="M13.9,0 L10.9,-8.5 M13.9,0 L10.9,8.5" stroke="#6e655f" stroke-width="0.8" fill="none"/><path d="M16.2,0 L13.2,-8.3 M16.2,0 L13.2,8.3" stroke="#6e655f" stroke-width="0.8" fill="none"/><path d="M18.5,0 L15.5,-7.9 M18.5,0 L15.5,7.9" stroke="#6e655f" stroke-width="0.8" fill="none"/><path d="M20.8,0 L17.8,-7.3 M20.8,0 L17.8,7.3" stroke="#6e655f" stroke-width="0.8" fill="none"/><path d="M23.1,0 L20.1,-6.2 M23.1,0 L20.1,6.2" stroke="#86aac4" stroke-width="0.8" fill="none"/><path d="M5,0 L26,0" stroke="#eeeeee" stroke-width="0.9"/></g>
<g transform="translate(749.4,146.3) rotate(-85)"><path d="M5,0 C6,-8.5 15.5,-9.5 24.8,-5.9 Q31,-2.5 31,0 Q31,2.5 24.8,5.9 C15.5,9.5 6,8.5 5,0 Z" fill="#dcd7d2" stroke="#857c76" stroke-width="0.8"/><path d="M7.0,0 L4.0,-7.2 M7.0,0 L4.0,7.2" stroke="#6e655f" stroke-width="0.8" fill="none"/><path d="M9.3,0 L6.3,-7.8 M9.3,0 L6.3,7.8" stroke="#6e655f" stroke-width="0.8" fill="none"/><path d="M11.6,0 L8.6,-8.2 M11.6,0 L8.6,8.2" stroke="#86aac4" stroke-width="0.8" fill="none"/><path d="M13.9,0 L10.9,-8.5 M13.9,0 L10.9,8.5" stroke="#6e655f" stroke-width="0.8" fill="none"/><path d="M16.2,0 L13.2,-8.5 M16.2,0 L13.2,8.5" stroke="#6e655f" stroke-width="0.8" fill="none"/><path d="M18.5,0 L15.5,-8.4 M18.5,0 L15.5,8.4" stroke="#6e655f" stroke-width="0.8" fill="none"/><path d="M20.8,0 L17.8,-8.0 M20.8,0 L17.8,8.0" stroke="#6e655f" stroke-width="0.8" fill="none"/><path d="M23.1,0 L20.1,-7.5 M23.1,0 L20.1,7.5" stroke="#86aac4" stroke-width="0.8" fill="none"/><path d="M25.4,0 L22.4,-6.7 M25.4,0 L22.4,6.7" stroke="#6e655f" stroke-width="0.8" fill="none"/><path d="M27.7,0 L24.7,-5.6 M27.7,0 L24.7,5.6" stroke="#6e655f" stroke-width="0.8" fill="none"/><path d="M5,0 L30,0" stroke="#eeeeee" stroke-width="0.9"/></g>
<g transform="translate(749.4,146.3) rotate(115)"><path d="M5,0 C6,-8.5 15.0,-9.5 24.0,-5.9 Q30,-2.5 30,0 Q30,2.5 24.0,5.9 C15.0,9.5 6,8.5 5,0 Z" fill="#dcd7d2" stroke="#857c76" stroke-width="0.8"/><path d="M7.0,0 L4.0,-7.3 M7.0,0 L4.0,7.3" stroke="#6e655f" stroke-width="0.8" fill="none"/><path d="M9.3,0 L6.3,-7.9 M9.3,0 L6.3,7.9" stroke="#6e655f" stroke-width="0.8" fill="none"/><path d="M11.6,0 L8.6,-8.3 M11.6,0 L8.6,8.3" stroke="#86aac4" stroke-width="0.8" fill="none"/><path d="M13.9,0 L10.9,-8.5 M13.9,0 L10.9,8.5" stroke="#6e655f" stroke-width="0.8" fill="none"/><path d="M16.2,0 L13.2,-8.5 M16.2,0 L13.2,8.5" stroke="#6e655f" stroke-width="0.8" fill="none"/><path d="M18.5,0 L15.5,-8.3 M18.5,0 L15.5,8.3" stroke="#6e655f" stroke-width="0.8" fill="none"/><path d="M20.8,0 L17.8,-7.9 M20.8,0 L17.8,7.9" stroke="#6e655f" stroke-width="0.8" fill="none"/><path d="M23.1,0 L20.1,-7.3 M23.1,0 L20.1,7.3" stroke="#86aac4" stroke-width="0.8" fill="none"/><path d="M25.4,0 L22.4,-6.3 M25.4,0 L22.4,6.3" stroke="#6e655f" stroke-width="0.8" fill="none"/><path d="M27.7,0 L24.7,-4.9 M27.7,0 L24.7,4.9" stroke="#6e655f" stroke-width="0.8" fill="none"/><path d="M5,0 L29,0" stroke="#eeeeee" stroke-width="0.9"/></g>
<g transform="translate(749.4,146.3) rotate(70)"><path d="M5,0 C6,-8.5 14.0,-9.5 22.4,-5.9 Q28,-2.5 28,0 Q28,2.5 22.4,5.9 C14.0,9.5 6,8.5 5,0 Z" fill="#dcd7d2" stroke="#857c76" stroke-width="0.8"/><path d="M7.0,0 L4.0,-7.5 M7.0,0 L4.0,7.5" stroke="#6e655f" stroke-width="0.8" fill="none"/><path d="M9.3,0 L6.3,-8.0 M9.3,0 L6.3,8.0" stroke="#6e655f" stroke-width="0.8" fill="none"/><path d="M11.6,0 L8.6,-8.4 M11.6,0 L8.6,8.4" stroke="#86aac4" stroke-width="0.8" fill="none"/><path d="M13.9,0 L10.9,-8.5 M13.9,0 L10.9,8.5" stroke="#6e655f" stroke-width="0.8" fill="none"/><path d="M16.2,0 L13.2,-8.4 M16.2,0 L13.2,8.4" stroke="#6e655f" stroke-width="0.8" fill="none"/><path d="M18.5,0 L15.5,-8.1 M18.5,0 L15.5,8.1" stroke="#6e655f" stroke-width="0.8" fill="none"/><path d="M20.8,0 L17.8,-7.5 M20.8,0 L17.8,7.5" stroke="#6e655f" stroke-width="0.8" fill="none"/><path d="M23.1,0 L20.1,-6.6 M23.1,0 L20.1,6.6" stroke="#86aac4" stroke-width="0.8" fill="none"/><path d="M25.4,0 L22.4,-5.3 M25.4,0 L22.4,5.3" stroke="#6e655f" stroke-width="0.8" fill="none"/><path d="M5,0 L27,0" stroke="#eeeeee" stroke-width="0.9"/></g>
<g transform="translate(749.4,146.3) rotate(20)"><path d="M5,0 C6,-8.5 14.5,-9.5 23.2,-5.9 Q29,-2.5 29,0 Q29,2.5 23.2,5.9 C14.5,9.5 6,8.5 5,0 Z" fill="#dcd7d2" stroke="#857c76" stroke-width="0.8"/><path d="M7.0,0 L4.0,-7.4 M7.0,0 L4.0,7.4" stroke="#6e655f" stroke-width="0.8" fill="none"/><path d="M9.3,0 L6.3,-8.0 M9.3,0 L6.3,8.0" stroke="#6e655f" stroke-width="0.8" fill="none"/><path d="M11.6,0 L8.6,-8.3 M11.6,0 L8.6,8.3" stroke="#86aac4" stroke-width="0.8" fill="none"/><path d="M13.9,0 L10.9,-8.5 M13.9,0 L10.9,8.5" stroke="#6e655f" stroke-width="0.8" fill="none"/><path d="M16.2,0 L13.2,-8.4 M16.2,0 L13.2,8.4" stroke="#6e655f" stroke-width="0.8" fill="none"/><path d="M18.5,0 L15.5,-8.2 M18.5,0 L15.5,8.2" stroke="#6e655f" stroke-width="0.8" fill="none"/><path d="M20.8,0 L17.8,-7.7 M20.8,0 L17.8,7.7" stroke="#6e655f" stroke-width="0.8" fill="none"/><path d="M23.1,0 L20.1,-7.0 M23.1,0 L20.1,7.0" stroke="#86aac4" stroke-width="0.8" fill="none"/><path d="M25.4,0 L22.4,-5.9 M25.4,0 L22.4,5.9" stroke="#6e655f" stroke-width="0.8" fill="none"/><path d="M5,0 L28,0" stroke="#eeeeee" stroke-width="0.9"/></g>
<g transform="translate(749.4,146.3) rotate(-35)"><path d="M5,0 C6,-8.5 12.5,-9.5 20.0,-5.9 Q25,-2.5 25,0 Q25,2.5 20.0,5.9 C12.5,9.5 6,8.5 5,0 Z" fill="#dcd7d2" stroke="#857c76" stroke-width="0.8"/><path d="M7.0,0 L4.0,-7.7 M7.0,0 L4.0,7.7" stroke="#6e655f" stroke-width="0.8" fill="none"/><path d="M9.3,0 L6.3,-8.2 M9.3,0 L6.3,8.2" stroke="#6e655f" stroke-width="0.8" fill="none"/><path d="M11.6,0 L8.6,-8.5 M11.6,0 L8.6,8.5" stroke="#86aac4" stroke-width="0.8" fill="none"/><path d="M13.9,0 L10.9,-8.5 M13.9,0 L10.9,8.5" stroke="#6e655f" stroke-width="0.8" fill="none"/><path d="M16.2,0 L13.2,-8.1 M16.2,0 L13.2,8.1" stroke="#6e655f" stroke-width="0.8" fill="none"/><path d="M18.5,0 L15.5,-7.5 M18.5,0 L15.5,7.5" stroke="#6e655f" stroke-width="0.8" fill="none"/><path d="M20.8,0 L17.8,-6.5 M20.8,0 L17.8,6.5" stroke="#6e655f" stroke-width="0.8" fill="none"/><path d="M5,0 L24,0" stroke="#eeeeee" stroke-width="0.9"/></g>
<circle cx="749.4" cy="146.3" r="7" fill="#f6f6f6" stroke="#a09a95" stroke-width="0.5"/>
<g transform="translate(749.4,146.3) rotate(20)"><path d="M0,0 L9,0" stroke="#8a827c" stroke-width="0.6"/></g>
<g transform="translate(749.4,146.3) rotate(65)"><path d="M0,0 L9,0" stroke="#8a827c" stroke-width="0.6"/></g>
<g transform="translate(749.4,146.3) rotate(110)"><path d="M0,0 L9,0" stroke="#8a827c" stroke-width="0.6"/></g>
<g transform="translate(749.4,146.3) rotate(155)"><path d="M0,0 L9,0" stroke="#8a827c" stroke-width="0.6"/></g>
<g transform="translate(749.4,146.3) rotate(200)"><path d="M0,0 L9,0" stroke="#8a827c" stroke-width="0.6"/></g>
<g transform="translate(749.4,146.3) rotate(245)"><path d="M0,0 L9,0" stroke="#8a827c" stroke-width="0.6"/></g>
<g transform="translate(749.4,146.3) rotate(290)"><path d="M0,0 L9,0" stroke="#8a827c" stroke-width="0.6"/></g>
<g transform="translate(749.4,146.3) rotate(335)"><path d="M0,0 L9,0" stroke="#8a827c" stroke-width="0.6"/></g>
<circle cx="792.2" cy="529.6" r="10.6" fill="#c6dde9" stroke="#6b5f58" stroke-width="1.5"/>
<path d="M767,512 Q776,527 792,529" fill="none" stroke="#6f8797" stroke-width="4.2" stroke-linecap="round"/>
<path d="M767,512 Q776,527 792,529" fill="none" stroke="#8fb3cb" stroke-width="2.6" stroke-linecap="round"/>
<g transform="translate(766.7,511.5) rotate(-105)"><path d="M0,0 Q12.8,-4.6 32,0 Q12.8,4.6 0,0 Z" fill="#e4eef4" stroke="#8a827c" stroke-width="0.9"/><path d="M2,0 L29,0" stroke="#b9c7d0" stroke-width="0.6"/></g>
<g transform="translate(766.7,511.5) rotate(-133.6)"><path d="M0,0 Q12.4,-4.6 31,0 Q12.4,4.6 0,0 Z" fill="#e4eef4" stroke="#8a827c" stroke-width="0.9"/><path d="M2,0 L28,0" stroke="#b9c7d0" stroke-width="0.6"/></g>
<g transform="translate(766.7,511.5) rotate(-82)"><path d="M0,0 Q8.0,-4.6 20,0 Q8.0,4.6 0,0 Z" fill="#e4eef4" stroke="#8a827c" stroke-width="0.9"/><path d="M2,0 L17,0" stroke="#b9c7d0" stroke-width="0.6"/></g>
<g transform="translate(766.7,511.5) rotate(-50)"><path d="M0,0 Q14.8,-4.6 37,0 Q14.8,4.6 0,0 Z" fill="#e4eef4" stroke="#8a827c" stroke-width="0.9"/><path d="M2,0 L34,0" stroke="#b9c7d0" stroke-width="0.6"/></g>
<g transform="translate(766.7,511.5) rotate(-34)"><path d="M0,0 Q8.0,-4.6 20,0 Q8.0,4.6 0,0 Z" fill="#e4eef4" stroke="#8a827c" stroke-width="0.9"/><path d="M2,0 L17,0" stroke="#b9c7d0" stroke-width="0.6"/></g>
<g transform="translate(766.7,511.5) rotate(-14)"><path d="M0,0 Q10.8,-4.6 27,0 Q10.8,4.6 0,0 Z" fill="#e4eef4" stroke="#8a827c" stroke-width="0.9"/><path d="M2,0 L24,0" stroke="#b9c7d0" stroke-width="0.6"/></g>
<g transform="translate(766.7,511.5) rotate(-171)"><path d="M0,0 Q9.2,-4.6 23,0 Q9.2,4.6 0,0 Z" fill="#e4eef4" stroke="#8a827c" stroke-width="0.9"/><path d="M2,0 L20,0" stroke="#b9c7d0" stroke-width="0.6"/></g>
<g transform="translate(766.7,511.5) rotate(159)"><path d="M0,0 Q8.4,-4.6 21,0 Q8.4,4.6 0,0 Z" fill="#e4eef4" stroke="#8a827c" stroke-width="0.9"/><path d="M2,0 L18,0" stroke="#b9c7d0" stroke-width="0.6"/></g>
<g transform="translate(766.7,511.5) rotate(127)"><path d="M0,0 Q8.8,-4.6 22,0 Q8.8,4.6 0,0 Z" fill="#e4eef4" stroke="#8a827c" stroke-width="0.9"/><path d="M2,0 L19,0" stroke="#b9c7d0" stroke-width="0.6"/></g>
<g transform="translate(766.7,511.5) rotate(94)"><path d="M0,0 Q10.2,-4.6 25.5,0 Q10.2,4.6 0,0 Z" fill="#e4eef4" stroke="#8a827c" stroke-width="0.9"/><path d="M2,0 L22.5,0" stroke="#b9c7d0" stroke-width="0.6"/></g>
<g transform="translate(766.7,511.5) rotate(24)"><path d="M0,0 Q10.4,-4.6 26,0 Q10.4,4.6 0,0 Z" fill="#e4eef4" stroke="#8a827c" stroke-width="0.9"/><path d="M2,0 L23,0" stroke="#b9c7d0" stroke-width="0.6"/></g>
<path d="M25,354 L62,354 Q75,354 75,367 L75,374 Q75,387 62,387 L25,387 Z" fill="#c6dde9" stroke="#6b5f58" stroke-width="1.3" />
<rect x="25" y="354" width="9.5" height="33" rx="0" fill="#97b4ca" stroke="#6b5f58" stroke-width="1.2" />
<path d="M44,360 L58,360 Q66,360 66,370 Q66,380 58,380 L44,380 Z" fill="#6f96b2" stroke="#6b5f58" stroke-width="1.4" />
<rect x="25" y="450" width="29" height="50" rx="0" fill="#c6dde9" stroke="#6b5f58" stroke-width="1.2" />
<rect x="33" y="455" width="19" height="40" rx="0" fill="#dce9f1" stroke="#6b5f58" stroke-width="1.2" />
<circle cx="40" cy="475" r="2.8" fill="#97b4ca" stroke="#6b5f58" stroke-width="0.8"/>
<line x1="28" y1="475" x2="37" y2="475" stroke="#6b5f58" stroke-width="1.3" />
<line x1="31" y1="471" x2="31" y2="479" stroke="#6b5f58" stroke-width="1.5" />
<rect x="25" y="508" width="131" height="61" rx="0" fill="#97b4ca" stroke="#6b5f58" stroke-width="1.2" />
<rect x="36" y="514" width="115" height="49" rx="5" fill="#c6dde9" stroke="#5e6d78" stroke-width="2.4" />
<rect x="54" y="527" width="73" height="22" rx="4" fill="#c6dde9" stroke="#6b5f58" stroke-width="1.2" />
<circle cx="90" cy="538.5" r="2" fill="none" stroke="#6b5f58" stroke-width="0.9"/>
<line x1="30" y1="538.5" x2="42" y2="538.5" stroke="#6b5f58" stroke-width="1.6" />
<line x1="35" y1="534" x2="35" y2="543" stroke="#6b5f58" stroke-width="2" />
<path d="M25,603 L72,603 Q75,603 75,606 L75,689 L25,689 Z" fill="#c6dde9" stroke="#6b5f58" stroke-width="1.2" />
<path d="M35.5,615 L39.5,619 M39.5,615 L35.5,619" stroke="#6b5f58" stroke-width="1.5"/>
<path d="M35.5,629 L39.5,633 M39.5,629 L35.5,633" stroke="#6b5f58" stroke-width="1.5"/>
<path d="M35.5,644 L39.5,648 M39.5,644 L35.5,648" stroke="#6b5f58" stroke-width="1.5"/>
<path d="M35.5,658 L39.5,662 M39.5,658 L35.5,662" stroke="#6b5f58" stroke-width="1.5"/>
<path d="M35.5,672 L39.5,676 M39.5,672 L35.5,676" stroke="#6b5f58" stroke-width="1.5"/>
<path d="M47.5,615 L51.5,619 M51.5,615 L47.5,619" stroke="#6b5f58" stroke-width="1.5"/>
<path d="M47.5,629 L51.5,633 M51.5,629 L47.5,633" stroke="#6b5f58" stroke-width="1.5"/>
<path d="M47.5,644 L51.5,648 M51.5,644 L47.5,648" stroke="#6b5f58" stroke-width="1.5"/>
<path d="M47.5,658 L51.5,662 M51.5,658 L47.5,662" stroke="#6b5f58" stroke-width="1.5"/>
<path d="M47.5,672 L51.5,676 M51.5,672 L47.5,676" stroke="#6b5f58" stroke-width="1.5"/>
<path d="M59.5,615 L63.5,619 M63.5,615 L59.5,619" stroke="#6b5f58" stroke-width="1.5"/>
<path d="M59.5,629 L63.5,633 M63.5,629 L59.5,633" stroke="#6b5f58" stroke-width="1.5"/>
<path d="M59.5,644 L63.5,648 M63.5,644 L59.5,648" stroke="#6b5f58" stroke-width="1.5"/>
<path d="M59.5,658 L63.5,662 M63.5,658 L59.5,662" stroke="#6b5f58" stroke-width="1.5"/>
<path d="M59.5,672 L63.5,676 M63.5,672 L59.5,676" stroke="#6b5f58" stroke-width="1.5"/>
<rect x="153" y="632" width="140" height="58" rx="0" fill="#dce9f1" stroke="#6b5f58" stroke-width="0.8" />
<rect x="153" y="685.5" width="140" height="4.5" rx="0" fill="#97b4ca" stroke="#6b5f58" stroke-width="0.6" />
<rect x="289" y="632" width="5" height="58" rx="0" fill="#6f96b2" stroke="none" stroke-width="0" />
<line x1="222" y1="685.5" x2="222" y2="690" stroke="#6b5f58" stroke-width="0.6" />
<g transform="translate(190,662) rotate(0)"><path d="M-3.6,-8.5 A3.6,3.6 0 1,1 0.5,-5 L0,-3.5 M0,-3.5 L-20.5,5.5 Q-23,7.5 -20,8.5 L20,8.5 Q23,7.5 20.5,5.5 L0,-3.5" fill="none" stroke="#6e6460" stroke-width="1.5" stroke-linejoin="round"/></g>
<g transform="translate(256,662) rotate(0)"><path d="M-3.6,-8.5 A3.6,3.6 0 1,1 0.5,-5 L0,-3.5 M0,-3.5 L-20.5,5.5 Q-23,7.5 -20,8.5 L20,8.5 Q23,7.5 20.5,5.5 L0,-3.5" fill="none" stroke="#6e6460" stroke-width="1.5" stroke-linejoin="round"/></g>
<rect x="423" y="424" width="58" height="124" rx="0" fill="#dce9f1" stroke="#6b5f58" stroke-width="0.8" />
<rect x="423" y="424" width="5" height="124" rx="0" fill="#97b4ca" stroke="none" stroke-width="0" />
<rect x="423" y="544" width="58" height="4" rx="0" fill="#97b4ca" stroke="none" stroke-width="0" />
<line x1="423" y1="485" x2="428" y2="485" stroke="#6b5f58" stroke-width="0.6" />
<g transform="translate(452,458.5) rotate(90)"><path d="M-3.6,-8.5 A3.6,3.6 0 1,1 0.5,-5 L0,-3.5 M0,-3.5 L-20.5,5.5 Q-23,7.5 -20,8.5 L20,8.5 Q23,7.5 20.5,5.5 L0,-3.5" fill="none" stroke="#6e6460" stroke-width="1.5" stroke-linejoin="round"/></g>
<g transform="translate(452,513) rotate(90)"><path d="M-3.6,-8.5 A3.6,3.6 0 1,1 0.5,-5 L0,-3.5 M0,-3.5 L-20.5,5.5 Q-23,7.5 -20,8.5 L20,8.5 Q23,7.5 20.5,5.5 L0,-3.5" fill="none" stroke="#6e6460" stroke-width="1.5" stroke-linejoin="round"/></g>
<path d="M564,548 L564,541 Q564,537 568,537" fill="none" stroke="none" stroke-width="0" />
<path d="M568,548 L568,384 Q568,379 573,379 L699,379 Q704,379 704,384 L704,548 Z" fill="#c6dde9" stroke="#6b5f58" stroke-width="1.8" />
<path d="M572,548 L572,387 Q572,383 576,383 L696,383 Q700,383 700,387 L700,548" fill="none" stroke="#6b5f58" stroke-width="1.2" />
<line x1="601" y1="499" x2="700" y2="499" stroke="#6b5f58" stroke-width="1.2" />
<polygon points="572.0,470.0 598.0,470.0 601.0,473.0 601.0,499.0" fill="#c6dde9" stroke="#6b5f58" stroke-width="1.2" />
<path d="M566,548 L564,543 Q564,537 570,537 L701,537 Q707,537 707,543 L705,548 Z" fill="#6f96b2"/>
<path d="M560,400 Q600,396 640,399 Q680,395 709,399 L707,410 L711,420 L707,434 Q660,438 620,434 Q585,438 560,434 L562,424 L556,416 L562,408 Z" fill="#dce9f1" stroke="#6b5f58" stroke-width="1.8" />
<path d="M575,405 Q600,402 625,406 Q650,402 675,405" fill="none" stroke="#6b5f58" stroke-width="1.2" />
<path d="M563,417 Q590,414 615,418 Q650,413 705,417" fill="none" stroke="#6b5f58" stroke-width="1.2" />
<path d="M563,428 Q600,424 630,428 Q665,423 705,426" fill="none" stroke="#6b5f58" stroke-width="1.2" />
<path d="M580,503 Q607,506 635,503 Q632,521 635,539 Q607,536 580,539 Q583,521 580,503 Z" fill="#dce9f1" stroke="#6b5f58" stroke-width="1.5" />
<path d="M586,508.5 Q600,507.5 608,508.5 Q620,509.5 629,508 Q628.5,520 629.5,534 Q610,532.5 586.5,534 Q587,520 586,508.5 Z" fill="none" stroke="#6b5f58" stroke-width="1.5" />
<path d="M640,503 Q667,506 695,503 Q692,521 695,539 Q667,536 640,539 Q643,521 640,503 Z" fill="#dce9f1" stroke="#6b5f58" stroke-width="1.5" />
<path d="M646,508.5 Q660,507.5 668,508.5 Q680,509.5 689,508 Q688.5,520 689.5,534 Q670,532.5 646.5,534 Q647,520 646,508.5 Z" fill="none" stroke="#6b5f58" stroke-width="1.5" />
<g transform="translate(558.01,147.9) scale(0.7716,0.7778)" fill="none" stroke="#5f5550" stroke-width="1.86" stroke-linecap="round" stroke-linejoin="round"><path d="M1.6,-19.8 L12.4,-19.8 L5.9,-11.9 C10.2,-12.1 13.2,-9.5 13.2,-5.8 C13.2,-2.2 10.4,0.3 6.8,0.3 C4.0,0.3 1.8,-0.9 0.5,-3.0" transform="translate(0.00,0)"/><path d="M10.2,0 L10.2,-19.8 L0.5,-6.3 L14.2,-6.3" transform="translate(15.00,0)"/><path d="M2.4,-1.6 L0.2,4.2" transform="translate(31.00,0)"/><path d="M7.5,-19.8 C11.7,-19.8 15.0,-15.4 15.0,-9.9 C15.0,-4.4 11.7,0 7.5,0 C3.3,0 0,-4.4 0,-9.9 C0,-15.4 3.3,-19.8 7.5,-19.8 Z" transform="translate(37.00,0)"/><path d="M7.5,-19.8 C11.7,-19.8 15.0,-15.4 15.0,-9.9 C15.0,-4.4 11.7,0 7.5,0 C3.3,0 0,-4.4 0,-9.9 C0,-15.4 3.3,-19.8 7.5,-19.8 Z" transform="translate(53.80,0)"/></g>
<g transform="translate(558.09,173.5) scale(0.7682,0.7778)" fill="none" stroke="#5f5550" stroke-width="1.86" stroke-linecap="round" stroke-linejoin="round"><path d="M10.8,-19.8 L2.4,-10.2 M7.1,-13.0 C10.8,-13.0 13.8,-10.1 13.8,-6.35 C13.8,-2.6 10.8,0.3 7.1,0.3 C3.4,0.3 0.4,-2.6 0.4,-6.35 C0.4,-10.1 3.4,-13.0 7.1,-13.0 Z" transform="translate(0.00,0)"/><path d="M10.8,-19.8 L2.4,-10.2 M7.1,-13.0 C10.8,-13.0 13.8,-10.1 13.8,-6.35 C13.8,-2.6 10.8,0.3 7.1,0.3 C3.4,0.3 0.4,-2.6 0.4,-6.35 C0.4,-10.1 3.4,-13.0 7.1,-13.0 Z" transform="translate(15.60,0)"/><path d="M2.4,-1.6 L0.2,4.2" transform="translate(31.20,0)"/><path d="M7.5,-19.8 C11.7,-19.8 15.0,-15.4 15.0,-9.9 C15.0,-4.4 11.7,0 7.5,0 C3.3,0 0,-4.4 0,-9.9 C0,-15.4 3.3,-19.8 7.5,-19.8 Z" transform="translate(37.20,0)"/><path d="M7.5,-19.8 C11.7,-19.8 15.0,-15.4 15.0,-9.9 C15.0,-4.4 11.7,0 7.5,0 C3.3,0 0,-4.4 0,-9.9 C0,-15.4 3.3,-19.8 7.5,-19.8 Z" transform="translate(54.00,0)"/></g>
<g transform="translate(558.09,199.0) scale(0.7766,0.7778)" fill="none" stroke="#5f5550" stroke-width="1.86" stroke-linecap="round" stroke-linejoin="round"><path d="M10.8,-19.8 L2.4,-10.2 M7.1,-13.0 C10.8,-13.0 13.8,-10.1 13.8,-6.35 C13.8,-2.6 10.8,0.3 7.1,0.3 C3.4,0.3 0.4,-2.6 0.4,-6.35 C0.4,-10.1 3.4,-13.0 7.1,-13.0 Z" transform="translate(0.00,0)"/><path d="M0.8,-19.8 L13.2,-19.8 L4.6,0" transform="translate(15.60,0)"/><path d="M2.4,-1.6 L0.2,4.2" transform="translate(30.20,0)"/><path d="M1.0,-15.2 C2.0,-18.4 4.6,-19.8 7.2,-19.8 C10.5,-19.8 12.9,-17.5 12.9,-14.4 C12.9,-12.0 11.7,-10.4 9.6,-8.4 L0.9,0 L13.4,0" transform="translate(36.20,0)"/><path d="M7.5,-19.8 C11.7,-19.8 15.0,-15.4 15.0,-9.9 C15.0,-4.4 11.7,0 7.5,0 C3.3,0 0,-4.4 0,-9.9 C0,-15.4 3.3,-19.8 7.5,-19.8 Z" transform="translate(51.20,0)"/></g>
<g transform="translate(114.70,183.3) scale(0.9945,1) skewX(-11)" fill="none" stroke="#1c1c1c" stroke-width="1.85" stroke-linecap="round" stroke-linejoin="round"><path d="M0.3,-16.2 L4.6,-19.8 L4.6,0" transform="translate(0.00,0)"/><path d="M1.0,-15.2 C2.0,-18.4 4.6,-19.8 7.2,-19.8 C10.5,-19.8 12.9,-17.5 12.9,-14.4 C12.9,-12.0 11.7,-10.4 9.6,-8.4 L0.9,0 L13.4,0" transform="translate(8.40,0)"/><path d="M2.4,-1.6 L0.2,4.2" transform="translate(23.40,0)"/><path d="M12.2,-19.8 L3.3,-19.8 L2.3,-11.0 C3.7,-11.8 5.3,-12.2 6.9,-12.2 C10.7,-12.2 13.3,-9.6 13.3,-6.0 C13.3,-2.2 10.5,0.3 6.9,0.3 C4.1,0.3 1.9,-0.9 0.6,-3.0" transform="translate(29.40,0)"/><path d="M7.5,-19.8 C11.7,-19.8 15.0,-15.4 15.0,-9.9 C15.0,-4.4 11.7,0 7.5,0 C3.3,0 0,-4.4 0,-9.9 C0,-15.4 3.3,-19.8 7.5,-19.8 Z" transform="translate(44.60,0)"/></g>
<g transform="translate(696.13,234.7) scale(0.9649,1) skewX(-11)" fill="none" stroke="#1c1c1c" stroke-width="1.85" stroke-linecap="round" stroke-linejoin="round"><path d="M1.0,-15.2 C2.0,-18.4 4.6,-19.8 7.2,-19.8 C10.5,-19.8 12.9,-17.5 12.9,-14.4 C12.9,-12.0 11.7,-10.4 9.6,-8.4 L0.9,0 L13.4,0" transform="translate(0.00,0)"/><path d="M7.5,-19.8 C11.7,-19.8 15.0,-15.4 15.0,-9.9 C15.0,-4.4 11.7,0 7.5,0 C3.3,0 0,-4.4 0,-9.9 C0,-15.4 3.3,-19.8 7.5,-19.8 Z" transform="translate(15.00,0)"/><path d="M2.4,-1.6 L0.2,4.2" transform="translate(31.80,0)"/><path d="M7.5,-19.8 C11.7,-19.8 15.0,-15.4 15.0,-9.9 C15.0,-4.4 11.7,0 7.5,0 C3.3,0 0,-4.4 0,-9.9 C0,-15.4 3.3,-19.8 7.5,-19.8 Z" transform="translate(37.80,0)"/><path d="M7.5,-19.8 C11.7,-19.8 15.0,-15.4 15.0,-9.9 C15.0,-4.4 11.7,0 7.5,0 C3.3,0 0,-4.4 0,-9.9 C0,-15.4 3.3,-19.8 7.5,-19.8 Z" transform="translate(54.60,0)"/></g>
<g transform="translate(92.71,381.6) scale(0.9674,1) skewX(-11)" fill="none" stroke="#1c1c1c" stroke-width="1.85" stroke-linecap="round" stroke-linejoin="round"><path d="M0.3,-16.2 L4.6,-19.8 L4.6,0" transform="translate(0.00,0)"/><path d="M2.4,-1.6 L0.2,4.2" transform="translate(8.40,0)"/><path d="M0.8,-19.8 L13.2,-19.8 L4.6,0" transform="translate(14.40,0)"/><path d="M7.5,-19.8 C11.7,-19.8 15.0,-15.4 15.0,-9.9 C15.0,-4.4 11.7,0 7.5,0 C3.3,0 0,-4.4 0,-9.9 C0,-15.4 3.3,-19.8 7.5,-19.8 Z" transform="translate(29.00,0)"/></g>
<g transform="translate(73.52,468) scale(0.9576,1) skewX(-11)" fill="none" stroke="#1c1c1c" stroke-width="1.85" stroke-linecap="round" stroke-linejoin="round"><path d="M1.6,-19.8 L12.4,-19.8 L5.9,-11.9 C10.2,-12.1 13.2,-9.5 13.2,-5.8 C13.2,-2.2 10.4,0.3 6.8,0.3 C4.0,0.3 1.8,-0.9 0.5,-3.0" transform="translate(0.00,0)"/><path d="M2.4,-1.6 L0.2,4.2" transform="translate(15.00,0)"/><path d="M10.2,0 L10.2,-19.8 L0.5,-6.3 L14.2,-6.3" transform="translate(21.00,0)"/><path d="M7.5,-19.8 C11.7,-19.8 15.0,-15.4 15.0,-9.9 C15.0,-4.4 11.7,0 7.5,0 C3.3,0 0,-4.4 0,-9.9 C0,-15.4 3.3,-19.8 7.5,-19.8 Z" transform="translate(37.00,0)"/></g>
<g transform="translate(256.71,445) scale(0.9700,1) skewX(-11)" fill="none" stroke="#1c1c1c" stroke-width="1.85" stroke-linecap="round" stroke-linejoin="round"><path d="M0.3,-16.2 L4.6,-19.8 L4.6,0" transform="translate(0.00,0)"/><path d="M10.2,0 L10.2,-19.8 L0.5,-6.3 L14.2,-6.3" transform="translate(8.40,0)"/><path d="M2.4,-1.6 L0.2,4.2" transform="translate(24.40,0)"/><path d="M10.2,0 L10.2,-19.8 L0.5,-6.3 L14.2,-6.3" transform="translate(30.40,0)"/><path d="M7.5,-19.8 C11.7,-19.8 15.0,-15.4 15.0,-9.9 C15.0,-4.4 11.7,0 7.5,0 C3.3,0 0,-4.4 0,-9.9 C0,-15.4 3.3,-19.8 7.5,-19.8 Z" transform="translate(46.40,0)"/></g>
<g transform="translate(478.71,401) scale(0.9582,1) skewX(-11)" fill="none" stroke="#1c1c1c" stroke-width="1.85" stroke-linecap="round" stroke-linejoin="round"><path d="M0.3,-16.2 L4.6,-19.8 L4.6,0" transform="translate(0.00,0)"/><path d="M10.2,0 L10.2,-19.8 L0.5,-6.3 L14.2,-6.3" transform="translate(8.40,0)"/><path d="M2.4,-1.6 L0.2,4.2" transform="translate(24.40,0)"/><path d="M7.5,-19.8 C11.7,-19.8 15.0,-15.4 15.0,-9.9 C15.0,-4.4 11.7,0 7.5,0 C3.3,0 0,-4.4 0,-9.9 C0,-15.4 3.3,-19.8 7.5,-19.8 Z" transform="translate(30.40,0)"/><path d="M7.5,-19.8 C11.7,-19.8 15.0,-15.4 15.0,-9.9 C15.0,-4.4 11.7,0 7.5,0 C3.3,0 0,-4.4 0,-9.9 C0,-15.4 3.3,-19.8 7.5,-19.8 Z" transform="translate(47.20,0)"/></g>
<g transform="translate(859.72,478.6) scale(0.9448,1) skewX(-11)" fill="none" stroke="#1c1c1c" stroke-width="1.85" stroke-linecap="round" stroke-linejoin="round"><path d="M0.3,-16.2 L4.6,-19.8 L4.6,0" transform="translate(0.00,0)"/><path d="M2.4,-1.6 L0.2,4.2" transform="translate(8.40,0)"/><path d="M1.0,-15.2 C2.0,-18.4 4.6,-19.8 7.2,-19.8 C10.5,-19.8 12.9,-17.5 12.9,-14.4 C12.9,-12.0 11.7,-10.4 9.6,-8.4 L0.9,0 L13.4,0" transform="translate(14.40,0)"/><path d="M7.5,-19.8 C11.7,-19.8 15.0,-15.4 15.0,-9.9 C15.0,-4.4 11.7,0 7.5,0 C3.3,0 0,-4.4 0,-9.9 C0,-15.4 3.3,-19.8 7.5,-19.8 Z" transform="translate(29.40,0)"/></g>
<g transform="translate(845.88,512.3) scale(1.0350,1) skewX(-11)" fill="none" stroke="#1c1c1c" stroke-width="1.85" stroke-linecap="round" stroke-linejoin="round"><path d="M5.4,-20.8 C2.2,-16.0 0.6,-11.0 0.6,-7.0 C0.6,-2.5 1.8,1.2 3.6,4.2" transform="translate(0.00,0)"/><path d="M1.0,-15.2 C2.0,-18.4 4.6,-19.8 7.2,-19.8 C10.5,-19.8 12.9,-17.5 12.9,-14.4 C12.9,-12.0 11.7,-10.4 9.6,-8.4 L0.9,0 L13.4,0" transform="translate(8.00,0)"/><path d="M2.4,-1.6 L0.2,4.2" transform="translate(23.00,0)"/><path d="M10.2,0 L10.2,-19.8 L0.5,-6.3 L14.2,-6.3" transform="translate(29.00,0)"/><path d="M7.5,-19.8 C11.7,-19.8 15.0,-15.4 15.0,-9.9 C15.0,-4.4 11.7,0 7.5,0 C3.3,0 0,-4.4 0,-9.9 C0,-15.4 3.3,-19.8 7.5,-19.8 Z" transform="translate(45.00,0)"/><path d="M1.6,-20.8 C3.6,-17.5 4.8,-14.0 4.8,-9.5 C4.8,-5.0 3.2,0 -0.2,4.2" transform="translate(61.80,0)"/></g>
</svg></body></html>
